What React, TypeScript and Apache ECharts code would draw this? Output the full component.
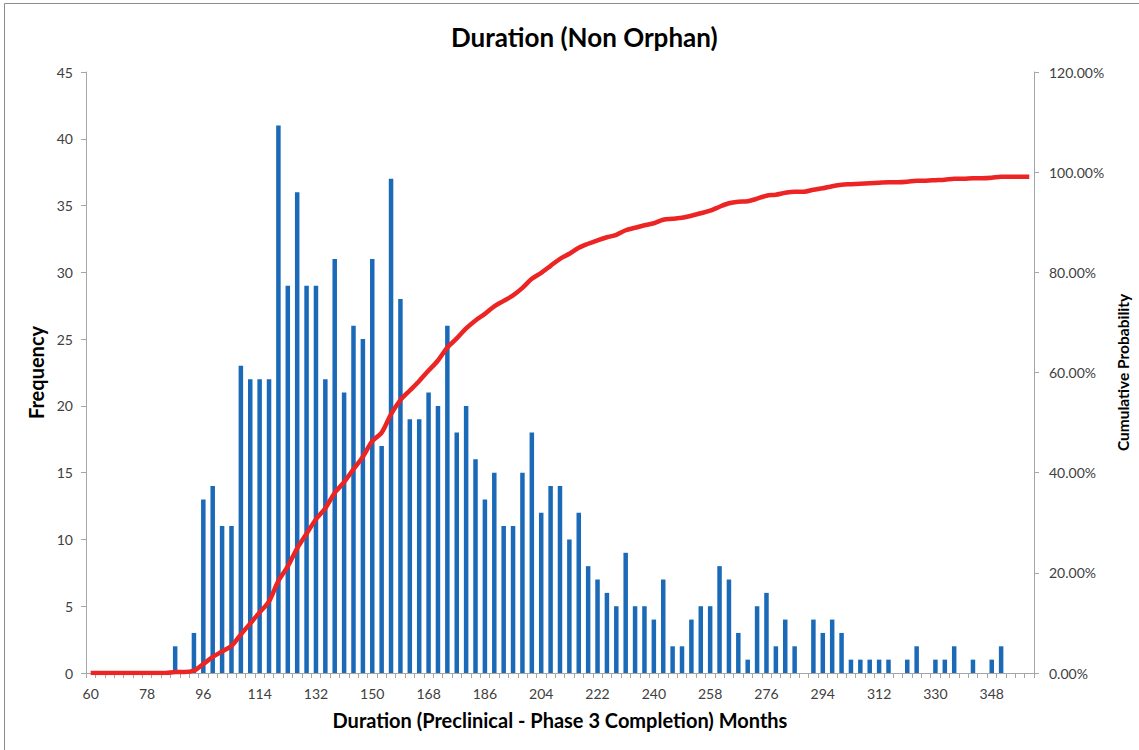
import React, { useEffect, useRef } from "react";
import * as echarts from "echarts";

const categories: string[] = [
  "60","63","66","69","72","75","78","81","84","87","90","93","96","99","102","105","108","111","114","117",
  "120","123","126","129","132","135","138","141","144","147","150","153","156","159","162","165","168","171","174","177",
  "180","183","186","189","192","195","198","201","204","207","210","213","216","219","222","225","228","231","234","237",
  "240","243","246","249","252","255","258","261","264","267","270","273","276","279","282","285","288","291","294","297",
  "300","303","306","309","312","315","318","321","324","327","330","333","336","339","342","345","348","351","354","357","360",
];

const frequency: number[] = [
  0,0,0,0,0,0,0,0,0,2,0,3,13,14,11,11,23,22,22,22,
  41,29,36,29,29,22,31,21,26,25,31,17,37,28,19,19,21,20,26,18,
  20,16,13,15,11,11,15,18,12,14,14,10,12,8,7,6,5,9,5,5,
  4,7,2,2,4,5,5,8,7,3,1,5,6,2,4,2,0,4,3,4,
  3,1,1,1,1,1,0,1,2,0,1,1,2,0,1,0,1,2,0,0,0,
];

const cumulative: number[] = [
  0,0,0,0,0,0,0,0,0,0.2,0.2,0.5,1.8,3.2,4.3,5.4,7.7,9.9,12.1,14.3,
  18.4,21.3,24.9,27.8,30.7,32.9,36.0,38.1,40.7,43.2,46.3,48.0,51.7,54.5,56.4,58.3,60.4,62.4,65.0,66.8,
  68.8,70.4,71.7,73.2,74.3,75.4,76.9,78.7,79.9,81.3,82.7,83.7,84.9,85.7,86.4,87.0,87.5,88.4,88.9,89.4,
  89.8,90.5,90.7,90.9,91.3,91.8,92.3,93.1,93.8,94.1,94.2,94.7,95.3,95.5,95.9,96.1,96.1,96.5,96.8,97.2,
  97.5,97.6,97.7,97.8,97.9,98.0,98.0,98.1,98.3,98.3,98.4,98.5,98.7,98.7,98.8,98.8,98.9,99.1,99.1,99.1,99.1,
];

const FONT = "Lato, 'Open Sans', sans-serif";
const AXIS_GRAY = "#a6a6a6";
const LABEL = "#404040";

export default function App() {
  const ref = useRef<HTMLDivElement>(null);
  useEffect(() => {
    if (!ref.current) return;
    const chart = echarts.init(ref.current, undefined, { renderer: "svg" });
    chart.setOption({
      animation: false,
      backgroundColor: "#ffffff",
      textStyle: { fontFamily: FONT },
      title: {
        text: "Duration (Non Orphan)",
        left: 446,
        top: 19,
        textStyle: { fontFamily: FONT, fontSize: 26, fontWeight: "bold", color: "#000" },
      },
      graphic: [
        {
          type: "rect",
          shape: { x: 4.5, y: 3.5, width: 1145, height: 760 },
          style: { fill: "none", stroke: "#8c8c8c", lineWidth: 1 },
          silent: true,
        },
      ],
      grid: { left: 86, right: 103, top: 72, bottom: 77 },
      xAxis: {
        type: "category",
        data: categories,
        boundaryGap: true,
        name: "Duration (Preclinical - Phase 3 Completion) Months",
        nameLocation: "middle",
        nameGap: 37,
        nameTextStyle: { fontFamily: FONT, fontSize: 20, fontWeight: "bold", color: "#000" },
        axisLine: { lineStyle: { color: AXIS_GRAY } },
        axisTick: { show: true, interval: 0, length: 5, lineStyle: { color: AXIS_GRAY } },
        axisLabel: { interval: 5, margin: 13, fontSize: 14, color: LABEL, fontFamily: FONT },
        splitLine: { show: false },
      },
      yAxis: [
        {
          type: "value",
          min: 0,
          max: 45,
          interval: 5,
          name: "Frequency",
          nameLocation: "middle",
          nameGap: 34,
          nameTextStyle: { fontFamily: FONT, fontSize: 20, fontWeight: "bold", color: "#000" },
          axisLine: { show: true, lineStyle: { color: AXIS_GRAY } },
          axisTick: { show: true, length: 5, lineStyle: { color: AXIS_GRAY } },
          axisLabel: { margin: 13, fontSize: 14, color: LABEL, fontFamily: FONT },
          splitLine: { show: false },
        },
        {
          type: "value",
          min: 0,
          max: 120,
          interval: 20,
          position: "right",
          name: "Cumulative Probability",
          nameLocation: "middle",
          nameGap: 74,
          nameRotate: 90,
          nameTextStyle: { fontFamily: FONT, fontSize: 15.5, fontWeight: "bold", color: "#000" },
          axisLine: { show: true, lineStyle: { color: AXIS_GRAY } },
          axisTick: { show: true, length: 5, lineStyle: { color: AXIS_GRAY } },
          axisLabel: {
            margin: 15,
            fontSize: 14,
            color: LABEL,
            fontFamily: FONT,
            formatter: (v: number) => v.toFixed(2) + "%",
          },
          splitLine: { show: false },
        },
      ],
      series: [
        {
          name: "Frequency",
          type: "bar",
          data: frequency,
          barWidth: 4.5,
          yAxisIndex: 0,
          itemStyle: { color: "#1b6ab7" },
        },
        {
          name: "Cumulative %",
          type: "line",
          data: cumulative,
          yAxisIndex: 1,
          smooth: 0.3,
          showSymbol: false,
          symbol: "none",
          lineStyle: { color: "#ec2424", width: 4.5 },
          z: 3,
        },
      ],
    });
    return () => chart.dispose();
  }, []);
  return (
    <div
      ref={ref}
      style={{ position: "fixed", left: 0, top: 0, width: 1139, height: 750 }}
    />
  );
}
